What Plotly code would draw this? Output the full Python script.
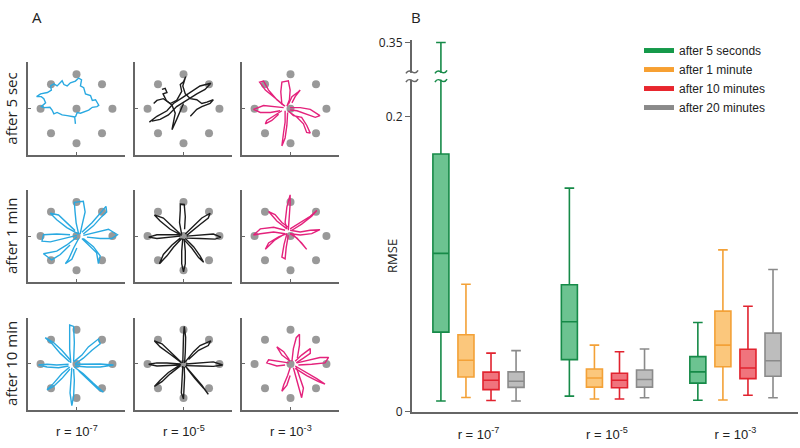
import plotly.graph_objects as go

# ---------------- panel A : reach trajectories ----------------
target_x = [0, 1, 0.71, 0, -0.71, -1, -0.71, 0, 0.71]
target_y = [0, 0, 0.71, 1, 0.71, 0, -0.71, -1, -0.71]

row_labels = ['after 5 sec', 'after 1 min', 'after 10 min']
col_labels = ['r = 10<sup>-7</sup>', 'r = 10<sup>-5</sup>', 'r = 10<sup>-3</sup>']
col_colors = ['#29a9e1', '#1c1c1c', '#e4227c']

# row 1 (after 5 sec)
traj_5s_r7 = [
    [(-0.03, -0.44), (-0.05, -0.24), (-0.26, -0.20), (-0.40, -0.18), (-0.54, -0.11), (-0.63, -0.15),
     (-0.68, -0.04), (-0.74, 0.04), (-0.91, 0.03), (-0.98, 0.06), (-0.86, 0.17), (-0.91, 0.29),
     (-0.98, 0.35), (-1.11, 0.35), (-1.0, 0.43), (-0.81, 0.47), (-0.70, 0.54), (-0.72, 0.66),
     (-0.63, 0.72), (-0.54, 0.66), (-0.40, 0.81), (-0.35, 0.70), (-0.26, 0.66), (-0.17, 0.75),
     (-0.03, 0.80), (0.06, 0.89), (0.14, 0.84), (0.11, 0.66), (0.20, 0.61), (0.25, 0.43),
     (0.39, 0.38), (0.44, 0.24), (0.53, 0.26), (0.62, 0.10), (0.57, 0.06), (0.44, 0.04),
     (0.34, -0.04), (0.25, -0.08), (0.11, -0.13), (0.02, -0.11), (-0.03, -0.24)],
]
traj_5s_r5 = [
    [(-0.95, -0.39), (-0.74, -0.22), (-0.46, -0.06), (-0.28, 0.15), (-0.02, 0.33), (0.23, 0.50),
     (0.46, 0.66), (0.76, 0.74), (0.60, 0.56), (0.37, 0.43), (0.09, 0.24), (-0.19, 0.06),
     (-0.42, -0.18), (-0.65, -0.31), (-0.88, -0.36)],
    [(-0.83, 0.15), (-0.74, 0.24), (-0.56, 0.29), (-0.37, 0.15), (-0.19, 0.24), (-0.05, 0.50),
     (-0.09, 0.70), (0.0, 0.78), (0.06, 0.93), (-0.02, 0.66), (0.05, 0.43), (0.19, 0.29),
     (0.37, 0.26), (0.51, 0.15), (0.65, 0.19), (0.83, 0.26), (0.74, 0.15), (0.51, 0.06),
     (0.37, -0.02), (0.19, -0.22)],
    [(-0.60, 0.56), (-0.51, 0.59), (-0.46, 0.47), (-0.57, 0.43), (-0.48, 0.24), (-0.32, 0.10),
     (-0.23, -0.13), (-0.32, -0.61), (-0.19, -0.31), (-0.09, -0.04), (0.0, 0.15)],
]
traj_5s_r3 = [
    [(-0.15, 0.07), (-0.47, 0.35), (-0.70, 0.54), (-0.86, 0.77), (-0.75, 0.80), (-0.61, 0.54), (-0.38, 0.26), (-0.18, 0.09)],
    [(-0.24, 0.12), (-0.27, 0.49), (-0.24, 0.77), (-0.06, 0.81), (-0.01, 0.54), (-0.03, 0.26), (-0.10, 0.07)],
    [(-0.06, 0.12), (0.04, 0.35), (0.22, 0.49), (0.27, 0.54), (0.13, 0.35), (0.04, 0.17)],
    [(-0.01, 0.03), (0.27, 0.03), (0.55, -0.02), (0.82, -0.20), (0.69, -0.25), (0.45, -0.16), (0.18, -0.06), (-0.01, -0.04)],
    [(-0.06, -0.06), (0.08, -0.20), (0.31, -0.25), (0.45, -0.48), (0.55, -0.71), (0.45, -0.69), (0.36, -0.44), (0.18, -0.25), (-0.01, -0.11)],
    [(-0.15, -0.06), (-0.15, -0.39), (-0.19, -0.67), (-0.24, -1.08), (-0.15, -0.85), (-0.10, -0.48), (-0.08, -0.11)],
    [(-0.19, 0.03), (-0.47, 0.07), (-0.75, 0.09), (-1.03, -0.02), (-0.84, -0.11), (-0.56, -0.11), (-0.29, -0.06)],
    [(-0.24, -0.06), (-0.47, -0.20), (-0.66, -0.34), (-0.70, -0.44), (-0.52, -0.34), (-0.33, -0.16)],
]

# row 2 (after 1 min)
traj_1m_r7 = [
    [(0.06, 0.06), (-0.01, 0.39), (-0.04, 0.71), (-0.06, 0.99), (0.19, 1.02), (0.24, 0.71), (0.15, 0.30), (0.10, 0.06)],
    [(0.15, 0.11), (0.43, 0.39), (0.66, 0.67), (0.82, 0.87), (0.84, 0.71), (0.70, 0.57), (0.47, 0.30), (0.19, 0.06)],
    [(0.19, 0.02), (0.56, 0.11), (0.89, 0.20), (1.14, 0.04), (0.98, -0.07), (0.66, -0.07), (0.29, -0.03)],
    [(0.15, -0.07), (0.33, -0.26), (0.56, -0.49), (0.61, -0.81), (0.66, -0.58), (0.47, -0.31), (0.19, -0.07)],
    [(0.06, -0.07), (-0.08, -0.35), (-0.22, -0.68), (-0.31, -0.81), (-0.13, -0.68), (0.01, -0.35)],
    [(0.01, -0.03), (-0.27, -0.26), (-0.55, -0.44), (-0.92, -0.52), (-0.69, -0.70), (-0.45, -0.54), (-0.18, -0.26)],
    [(0.01, 0.02), (-0.36, -0.07), (-0.73, -0.17), (-0.96, -0.15), (-0.92, 0.04), (-0.55, 0.06), (-0.18, 0.04)],
    [(0.06, 0.06), (-0.27, 0.25), (-0.55, 0.48), (-0.73, 0.67), (-0.50, 0.62), (-0.27, 0.39), (-0.04, 0.16)],
]
traj_1m_r5 = [
    [(-0.05, 0.04), (-0.11, 0.39), (-0.09, 0.76), (-0.09, 0.94), (0.02, 0.93), (0.05, 0.57), (0.03, 0.20)],
    [(0.05, 0.06), (0.28, 0.30), (0.51, 0.53), (0.74, 0.67), (0.69, 0.53), (0.46, 0.34), (0.09, 0.02)],
    [(0.09, 0.0), (0.46, 0.04), (0.83, 0.06), (1.04, -0.03), (0.88, -0.09), (0.46, -0.07), (0.09, -0.06)],
    [(0.05, -0.07), (0.28, -0.31), (0.46, -0.58), (0.56, -0.77), (0.42, -0.63), (0.23, -0.35), (0.0, -0.09)],
    [(-0.02, -0.07), (-0.05, -0.44), (-0.05, -0.81), (0.0, -1.05), (0.05, -0.81), (0.05, -0.44), (0.02, -0.09)],
    [(-0.09, -0.06), (-0.32, -0.26), (-0.56, -0.54), (-0.67, -0.81), (-0.46, -0.58), (-0.28, -0.33), (-0.05, -0.07)],
    [(-0.09, 0.0), (-0.46, -0.03), (-0.74, -0.07), (-0.97, -0.03), (-0.74, 0.04), (-0.46, 0.04), (-0.09, 0.04)],
    [(-0.09, 0.06), (-0.32, 0.30), (-0.56, 0.53), (-0.81, 0.62), (-0.65, 0.44), (-0.37, 0.20), (-0.05, 0.02)],
]
traj_1m_r3 = [
    [(-0.06, 0.17), (-0.03, 0.58), (-0.01, 0.95), (-0.01, 1.21), (-0.10, 0.86), (-0.15, 0.40), (-0.10, 0.21)],
    [(-0.01, 0.21), (0.27, 0.40), (0.55, 0.58), (0.73, 0.75), (0.59, 0.58), (0.31, 0.35), (0.04, 0.17)],
    [(-0.10, 0.21), (-0.38, 0.44), (-0.61, 0.72), (-0.43, 0.63), (-0.24, 0.40), (-0.06, 0.26)],
    [(-0.15, 0.17), (-0.47, 0.26), (-0.84, 0.21), (-1.03, 0.03), (-0.84, 0.07), (-0.47, 0.12), (-0.15, 0.07)],
    [(-0.15, 0.07), (-0.43, -0.11), (-0.70, -0.39), (-0.61, -0.20), (-0.33, -0.02), (-0.10, 0.07)],
    [(-0.10, 0.07), (-0.18, -0.25), (-0.24, -0.62), (-0.15, -0.67), (-0.12, -0.34), (-0.06, 0.03)],
    [(-0.01, 0.07), (0.18, -0.06), (0.45, -0.39), (0.31, -0.20), (0.08, 0.03)],
    [(-0.01, 0.17), (0.27, 0.12), (0.55, 0.17), (0.82, 0.19), (0.59, 0.07), (0.27, 0.03), (-0.01, 0.07)],
]

# row 3 (after 10 min)
traj_10m_r7 = [
    [(-0.16, 0.03), (-0.19, 0.45), (-0.19, 0.82), (-0.19, 1.14), (-0.08, 1.10), (-0.06, 0.63), (-0.08, 0.08)],
    [(-0.08, 0.06), (0.15, 0.26), (0.33, 0.50), (0.61, 0.73), (0.66, 0.59), (0.43, 0.40), (0.19, 0.17), (-0.04, 0.0)],
    [(-0.04, -0.01), (0.29, -0.01), (0.66, 0.0), (1.03, -0.03), (0.66, -0.09), (0.29, -0.09), (-0.04, -0.06)],
    [(-0.06, -0.09), (0.19, -0.29), (0.47, -0.57), (0.75, -0.83), (0.61, -0.75), (0.33, -0.48), (0.06, -0.20)],
    [(-0.13, -0.11), (-0.16, -0.48), (-0.18, -0.85), (-0.13, -1.22), (-0.08, -0.94), (-0.06, -0.48), (-0.08, -0.15)],
    [(-0.19, -0.09), (-0.41, -0.29), (-0.64, -0.57), (-0.82, -0.76), (-0.64, -0.66), (-0.41, -0.43), (-0.18, -0.15)],
    [(-0.22, -0.01), (-0.55, -0.03), (-0.82, -0.01), (-1.06, -0.03), (-0.82, -0.09), (-0.50, -0.11), (-0.22, -0.06)],
    [(-0.19, 0.06), (-0.45, 0.31), (-0.68, 0.59), (-0.87, 0.77), (-0.64, 0.63), (-0.41, 0.40), (-0.16, 0.10)],
]
traj_10m_r5 = [
    [(-0.02, 0.03), (-0.02, 0.45), (0.0, 0.82), (0.02, 1.10), (0.06, 0.78), (0.05, 0.36), (0.03, 0.03)],
    [(0.05, 0.06), (0.28, 0.36), (0.46, 0.54), (0.76, 0.68), (0.69, 0.54), (0.42, 0.40), (0.14, 0.13)],
    [(0.07, 0.0), (0.46, 0.03), (0.83, 0.06), (1.09, -0.03), (0.83, -0.07), (0.46, -0.06), (0.07, -0.05)],
    [(0.05, -0.06), (0.28, -0.34), (0.51, -0.62), (0.69, -0.89), (0.56, -0.71), (0.32, -0.43), (0.09, -0.12)],
    [(-0.02, -0.06), (-0.05, -0.48), (-0.06, -0.85), (0.0, -1.03), (0.02, -0.76), (0.03, -0.38), (0.02, -0.09)],
    [(-0.09, -0.06), (-0.37, -0.29), (-0.60, -0.52), (-0.81, -0.66), (-0.65, -0.48), (-0.42, -0.25), (-0.07, -0.01)],
    [(-0.09, 0.0), (-0.46, 0.03), (-0.74, 0.03), (-0.97, -0.01), (-0.74, -0.06), (-0.42, -0.04), (-0.09, -0.03)],
    [(-0.07, 0.06), (-0.37, 0.36), (-0.60, 0.59), (-0.81, 0.68), (-0.65, 0.50), (-0.35, 0.27), (-0.05, 0.03)],
]
traj_10m_r3 = [
    [(0.04, 0.08), (0.08, 0.45), (0.16, 0.77), (0.25, 0.87), (0.25, 0.55), (0.19, 0.17)],
    [(0.13, 0.08), (0.31, 0.26), (0.55, 0.45), (0.55, 0.31), (0.36, 0.17), (0.16, 0.03)],
    [(0.18, 0.03), (0.55, 0.12), (0.82, 0.19), (1.06, 0.19), (0.96, 0.03), (0.59, -0.01), (0.22, -0.03)],
    [(0.13, -0.06), (0.45, -0.25), (0.73, -0.43), (0.96, -0.59), (0.78, -0.52), (0.45, -0.34), (0.13, -0.13)],
    [(0.08, -0.11), (0.16, -0.43), (0.25, -0.76), (0.31, -0.99), (0.36, -0.71), (0.25, -0.38), (0.16, -0.09)],
    [(-0.01, -0.11), (-0.08, -0.34), (-0.19, -0.62), (-0.24, -0.80), (-0.10, -0.62), (-0.01, -0.34)],
    [(-0.05, 0.03), (-0.33, 0.08), (-0.61, 0.12), (-0.66, 0.03), (-0.38, -0.06), (-0.15, -0.03)],
    [(-0.01, 0.08), (-0.24, 0.26), (-0.38, 0.50), (-0.19, 0.36), (-0.03, 0.12)],
]

panels = [
    [traj_5s_r7, traj_5s_r5, traj_5s_r3],
    [traj_1m_r7, traj_1m_r5, traj_1m_r3],
    [traj_10m_r7, traj_10m_r5, traj_10m_r3],
]

# ---------------- panel B : RMSE box plots ----------------
conditions = ['r = 10<sup>-7</sup>', 'r = 10<sup>-5</sup>', 'r = 10<sup>-3</sup>']
series_names = ['after 5 seconds', 'after 1 minute', 'after 10 minutes', 'after 20 minutes']
lo = [[0.0074, 0.0107, 0.0079], [0.0098, 0.0087, 0.0081], [0.0077, 0.0087, 0.0113], [0.0074, 0.0096, 0.0096]]
q1 = [[0.054, 0.0354, 0.0195], [0.0236, 0.0168, 0.0306], [0.0151, 0.0164, 0.0225], [0.0166, 0.0168, 0.0241]]
med = [[0.1073, 0.061, 0.0271], [0.035, 0.023, 0.0452], [0.0214, 0.0214, 0.0297], [0.0208, 0.0219, 0.0346]]
q3 = [[0.1746, 0.0861, 0.0374], [0.0522, 0.029, 0.0682], [0.0269, 0.0262, 0.0424], [0.0271, 0.0284, 0.0533]]
hi = [[0.35, 0.1515, 0.0605], [0.0864, 0.0452, 0.1097], [0.0398, 0.0407, 0.0715], [0.0415, 0.0426, 0.0964]]

line_colors = ['#168a48', '#f3a137', '#e1232f', '#8a8a8a']
fill_colors = ['#6cc391', '#fbc77c', '#f0747d', '#bdbdbd']
legend_colors = ['#15994a', '#f7a032', '#e8262e', '#8a8a8a']

BREAK = 0.2  # axis is broken above this value


def squash(v):
    # values above the break are compressed 3x
    return v if v <= BREAK else BREAK + (v - BREAK) / 3


W, H = 800, 448


def px(x):
    return x / W


def py(y):
    return 1 - y / H


FONT = 'Liberation Sans, Arial, sans-serif'
FONT2 = 'Open Sans, sans-serif'
AXC = '#666666'

fig = go.Figure()
layout = dict(width=W, height=H, autosize=False, margin=dict(l=0, r=0, t=0, b=0, pad=0),
              paper_bgcolor='white', plot_bgcolor='white', showlegend=True)

col_px = [(28, 125), (135, 232), (242, 339)]
row_px = [(58, 154), (190, 285), (322, 417)]
annotations = []
shapes = []


def label(x, y, text, size, family=FONT2, angle=0, color='#222'):
    annotations.append(dict(x=px(x), y=py(y), xref='paper', yref='paper', text=text,
                            xanchor='center', yanchor='middle', textangle=angle, showarrow=False,
                            font=dict(size=size, family=family, color=color)))


for r in range(3):
    for c in range(3):
        k = r * 3 + c + 1
        xa, ya = ('x%d' % k if k > 1 else 'x'), ('y%d' % k if k > 1 else 'y')
        fig.add_trace(go.Scatter(x=target_x, y=target_y, mode='markers',
                                 marker=dict(size=8, color='#999999'),
                                 xaxis=xa, yaxis=ya, showlegend=False, hoverinfo='skip'))
        xs, ys = [], []
        for stroke in panels[r][c]:
            xs += [p[0] for p in stroke] + [None]
            ys += [p[1] for p in stroke] + [None]
        fig.add_trace(go.Scatter(x=xs, y=ys, mode='lines',
                                 line=dict(color=col_colors[c], width=1.4),
                                 xaxis=xa, yaxis=ya, showlegend=False, hoverinfo='skip'))
        ax = dict(range=[-1.35, 1.35], showgrid=False, zeroline=False, showline=True,
                  linecolor=AXC, linewidth=1.5, ticks='inside', ticklen=3, tickcolor=AXC,
                  tickvals=[0, 1.345], showticklabels=False)
        layout['xaxis%d' % k] = dict(ax, domain=[px(col_px[c][0]), px(col_px[c][1])], anchor=ya)
        layout['yaxis%d' % k] = dict(ax, domain=[py(row_px[r][1]), py(row_px[r][0])], anchor=xa)

for r in range(3):
    label(11, (row_px[r][0] + row_px[r][1]) / 2, row_labels[r], 15, angle=-90)
for c in range(3):
    label((col_px[c][0] + col_px[c][1]) / 2, 439, col_labels[c], 13, family=FONT)

label(37, 11, 'A', 15)
label(416, 11, 'B', 15)
label(392, 258, 'RMSE', 13, angle=-90)

# box plots
for i, name in enumerate(series_names):
    fig.add_trace(go.Box(
        x=conditions, q1=q1[i], median=med[i], q3=q3[i],
        lowerfence=lo[i], upperfence=[squash(v) for v in hi[i]],
        name=name, marker_color=line_colors[i], fillcolor=fill_colors[i],
        line=dict(color=line_colors[i], width=1.6), whiskerwidth=0.6,
        xaxis='x10', yaxis='y10', showlegend=False, hoverinfo='skip'))
for i, name in enumerate(series_names):
    fig.add_trace(go.Scatter(x=[None], y=[None], mode='lines', name=name,
                             line=dict(color=legend_colors[i], width=5),
                             xaxis='x10', yaxis='y10'))

layout['xaxis10'] = dict(domain=[px(412), px(798)], anchor='y10', type='category',
                         range=[-0.5175, 2.487],
                         showline=True, linecolor=AXC, linewidth=2, showgrid=False, ticks='',
                         tickfont=dict(size=13, family=FONT, color='#222'), ticklabelstandoff=9)
layout['yaxis10'] = dict(domain=[py(419), py(34.7)], anchor='x10', range=[0, 0.252],
                         showline=True, linecolor=AXC, linewidth=2, showgrid=False, zeroline=False,
                         ticks='outside', ticklen=5, tickcolor=AXC,
                         tickvals=[0, BREAK, squash(0.35)], ticktext=['0', '0.2', '0.35'],
                         tickfont=dict(size=12, family=FONT2, color='#222'))
layout['boxmode'] = 'group'
layout['boxgap'] = 0.22
layout['boxgroupgap'] = 0.36

# axis-break marks (two small waves) on the y axis and on the long whisker
for bx, col in [(412, AXC), (441, line_colors[0])]:
    shapes.append(dict(type='rect', xref='paper', yref='paper', layer='above',
                       x0=px(bx - 3), x1=px(bx + 3), y0=py(76), y1=py(69),
                       fillcolor='white', line=dict(width=0)))
    for by in (68, 77):
        path = 'M %f,%f C %f,%f %f,%f %f,%f' % (
            px(bx - 6), py(by + 1.5), px(bx - 2), py(by - 6), px(bx + 2), py(by + 6), px(bx + 6), py(by - 1.5))
        shapes.append(dict(type='path', xref='paper', yref='paper', layer='above', path=path,
                           line=dict(color=col, width=1.6)))

layout['annotations'] = annotations
layout['shapes'] = shapes
layout['legend'] = dict(x=px(639), y=py(31), xanchor='left', yanchor='top',
                        font=dict(size=12, family=FONT, color='#222'), bgcolor='rgba(0,0,0,0)')
fig.update_layout(layout)

fig.write_html("out.html", config={'responsive': False, 'displayModeBar': False},
               post_script="document.body.style.margin='0px';document.body.style.overflow='hidden';")
